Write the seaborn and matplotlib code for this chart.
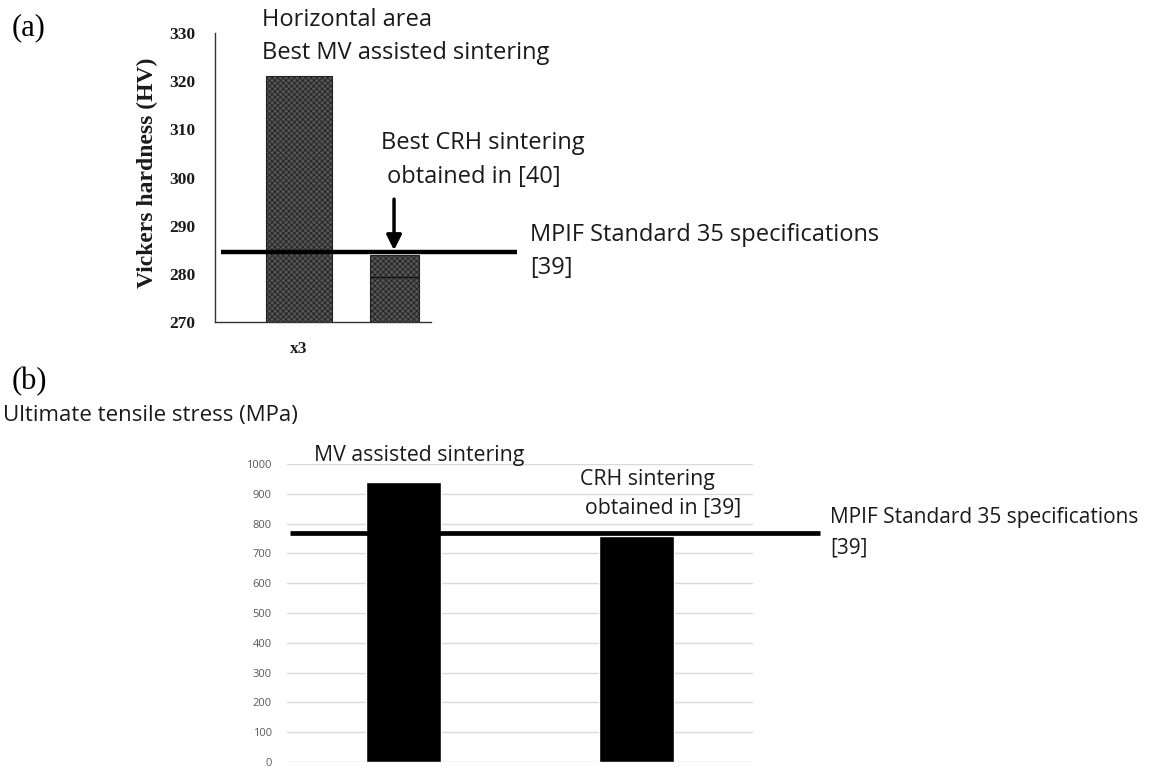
import matplotlib
matplotlib.use("Agg")
import matplotlib.pyplot as plt
import seaborn as sns
import pandas as pd

# ---------------- data ----------------
hard_categories = ["Best MV assisted sintering", "Best CRH sintering"]
hard_values = [321, 284]
hard_standard = 284.5
hard_inner_line = 279.3
hard_ticks = [270, 280, 290, 300, 310, 320, 330]
hard_xlabel = "x3"

uts_categories = ["MV assisted sintering", "CRH sintering"]
uts_values = [940, 760]
uts_standard = 770
uts_ticks = [0, 100, 200, 300, 400, 500, 600, 700, 800, 900, 1000]

sns.set_style("white")
plt.rcParams["font.family"] = ["Open Sans", "DejaVu Sans"]
plt.rcParams["hatch.linewidth"] = 0.6
SERIF = ["Liberation Serif", "DejaVu Serif"]
SANS = ["Open Sans", "DejaVu Sans"]
TXT = "#1a1a1a"
TOP_FS = 17
BOT_FS = 15.3

W, H = 1151, 768
fig = plt.figure(figsize=(W / 100, H / 100), dpi=100)


def fx(px):
    return px / W


def fy(py):
    return 1 - py / H


# ---------------- panel (a) ----------------
ax1 = fig.add_axes([fx(215), fy(322), fx(431) - fx(215), fy(33) - fy(322)])
df1 = pd.DataFrame({"cat": hard_categories, "val": hard_values})
sns.barplot(data=df1, x="cat", y="val", ax=ax1, width=0.695,
            color="#555555", edgecolor="#222222", linewidth=0.8,
            saturation=1)
for p in ax1.patches:
    p.set_hatch("xxxxxx")
# second bar is narrower in the original
p2 = ax1.patches[1]
cx = p2.get_x() + p2.get_width() / 2
p2.set_width(0.516)
p2.set_x(cx - 0.516 / 2)

ax1.set_ylim(hard_ticks[0], hard_ticks[-1])
ax1.set_xlim(-0.884, 1.389)
ax1.set_yticks(hard_ticks)
ax1.set_yticklabels([str(t) for t in hard_ticks], fontfamily=SERIF,
                    fontweight="bold", fontsize=12.5, color=TXT)
ax1.tick_params(axis="y", direction="in", length=4, width=1, color="#333333", pad=14)
ax1.set_xticks([0])
ax1.set_xticklabels([hard_xlabel], fontfamily=SERIF, fontweight="bold",
                    fontsize=12.5, color=TXT)
ax1.tick_params(axis="x", which="major", length=0, pad=14)
ax1.set_xticks([-0.537, 0.558, 1.389], minor=True)
ax1.tick_params(axis="x", which="minor", direction="in", length=4, width=1, color="#333333")
ax1.set_xlabel("")
ax1.set_ylabel("")
for s in ["top", "right"]:
    ax1.spines[s].set_visible(False)
for s in ["left", "bottom"]:
    ax1.spines[s].set_color("#333333")
    ax1.spines[s].set_linewidth(1.0)

# inner thin line within the second bar
ax1.hlines(hard_inner_line, p2.get_x(), p2.get_x() + p2.get_width(),
           color="#111111", lw=0.9, zorder=5)
# standard line
ax1.hlines(hard_standard, -0.821, 2.295, color="black", lw=3.2,
           clip_on=False, zorder=6)
# arrow
ax1.annotate("", xy=(cx, hard_standard + 0.4), xytext=(cx, 295.5),
             arrowprops=dict(arrowstyle="-|>,head_width=0.45,head_length=0.9",
                             color="black", lw=2.5, shrinkA=0, shrinkB=0),
             annotation_clip=False)

fig.text(fx(147), fy(173), "Vickers hardness (HV)", rotation=90,
         ha="center", va="center", fontfamily=SERIF, fontweight="bold",
         fontsize=17, color=TXT)
fig.text(fx(12), fy(28), "(a)", ha="left", va="center", fontfamily=SERIF,
         fontsize=22, color="black")
fig.text(fx(262), fy(20), "Horizontal area", ha="left", va="center",
         fontfamily=SANS, fontsize=TOP_FS, color=TXT)
fig.text(fx(262), fy(53), hard_categories[0], ha="left", va="center",
         fontfamily=SANS, fontsize=TOP_FS, color=TXT)
fig.text(fx(381), fy(143), hard_categories[1], ha="left", va="center",
         fontfamily=SANS, fontsize=TOP_FS, color=TXT)
fig.text(fx(387), fy(177), "obtained in [40]", ha="left", va="center",
         fontfamily=SANS, fontsize=TOP_FS, color=TXT)
fig.text(fx(530), fy(235), "MPIF Standard 35 specifications", ha="left",
         va="center", fontfamily=SANS, fontsize=TOP_FS, color=TXT)
fig.text(fx(530), fy(268), "[39]", ha="left", va="center",
         fontfamily=SANS, fontsize=TOP_FS, color=TXT)

# ---------------- panel (b) ----------------
ax2 = fig.add_axes([fx(287), fy(762), fx(753) - fx(287), fy(464) - fy(762)])
df2 = pd.DataFrame({"cat": uts_categories, "val": uts_values})
sns.barplot(data=df2, x="cat", y="val", ax=ax2, width=0.32,
            color="black", saturation=1, zorder=3)
ax2.set_xlim(-0.5, 1.5)
ax2.set_ylim(uts_ticks[0], uts_ticks[-1])
ax2.set_yticks(uts_ticks)
ax2.set_yticklabels([str(t) for t in uts_ticks], fontsize=8,
                    color="#595959", fontfamily=SANS)
ax2.tick_params(axis="y", length=0, pad=11)
ax2.set_xticks([])
ax2.set_xlabel("")
ax2.set_ylabel("")
ax2.grid(axis="y", color="#d9d9d9", lw=1)
ax2.set_axisbelow(True)
for s in ax2.spines.values():
    s.set_visible(False)
ax2.hlines(uts_standard, -0.487, 1.788, color="black", lw=3.4,
           clip_on=False, zorder=6)

fig.text(fx(12), fy(382), "(b)", ha="left", va="center", fontfamily=SERIF,
         fontsize=22, color="black")
fig.text(fx(3), fy(415), "Ultimate tensile stress (MPa)", ha="left",
         va="center", fontfamily=SANS, fontsize=16, color=TXT)
fig.text(fx(314), fy(456), uts_categories[0], ha="left", va="center",
         fontfamily=SANS, fontsize=BOT_FS, color=TXT)
fig.text(fx(580), fy(479), uts_categories[1], ha="left", va="center",
         fontfamily=SANS, fontsize=BOT_FS, color=TXT)
fig.text(fx(585), fy(508), "obtained in [39]", ha="left", va="center",
         fontfamily=SANS, fontsize=BOT_FS, color=TXT)
fig.text(fx(830), fy(517), "MPIF Standard 35 specifications", ha="left",
         va="center", fontfamily=SANS, fontsize=15, color=TXT)
fig.text(fx(830), fy(548), "[39]", ha="left", va="center",
         fontfamily=SANS, fontsize=15, color=TXT)

fig.savefig("out.png", dpi=100)
